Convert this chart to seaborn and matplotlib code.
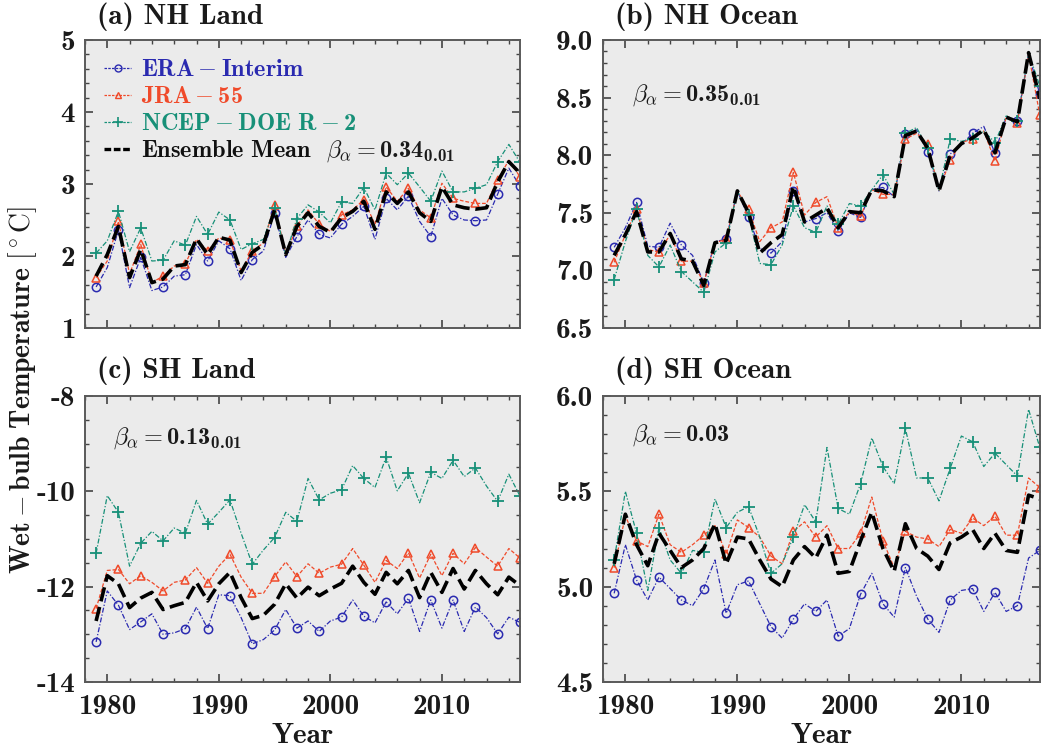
import matplotlib
matplotlib.use('Agg')
import matplotlib.pyplot as plt
import seaborn as sns
import pandas as pd
from matplotlib.ticker import MultipleLocator, FormatStrFormatter
from matplotlib.lines import Line2D

years = list(range(1979, 2018))

# (a) NH Land
era_nh_land = [1.57,1.84,2.36,1.56,1.98,1.52,1.57,1.72,1.74,2.16,1.93,2.21,2.10,1.66,1.95,2.07,2.60,1.98,2.27,2.50,
               2.30,2.25,2.44,2.55,2.69,2.23,2.80,2.64,2.83,2.48,2.27,2.80,2.57,2.50,2.49,2.50,2.86,3.22,2.97]
jra_nh_land = [1.70,1.93,2.48,1.75,2.16,1.63,1.72,1.86,1.89,2.23,2.07,2.25,2.22,1.79,2.07,2.18,2.71,2.02,2.41,2.64,
               2.44,2.34,2.57,2.64,2.78,2.44,2.96,2.76,2.94,2.64,2.53,3.01,2.80,2.76,2.73,2.73,3.06,3.33,3.10]
ncep_nh_land = [2.04,2.21,2.62,2.06,2.39,1.93,1.94,2.21,2.15,2.55,2.30,2.61,2.50,2.09,2.17,2.23,2.67,2.02,2.52,2.71,
                2.61,2.46,2.75,2.73,2.95,2.64,3.15,2.99,3.15,2.96,2.76,3.18,2.89,2.89,2.94,2.99,3.31,3.55,3.30]
ens_nh_land = [1.72,2.02,2.41,1.70,2.09,1.63,1.68,1.86,1.88,2.24,2.02,2.26,2.22,1.77,2.05,2.16,2.64,2.02,2.41,2.60,
               2.41,2.33,2.53,2.62,2.76,2.37,2.89,2.73,2.89,2.60,2.48,2.96,2.71,2.67,2.65,2.67,3.03,3.31,3.15]

# (b) NH Ocean
era_nh_ocean = [7.20,7.37,7.59,7.21,7.20,7.41,7.22,7.13,6.89,7.25,7.27,7.69,7.46,7.19,7.15,7.25,7.69,7.42,7.45,7.50,
                7.34,7.50,7.46,7.70,7.72,7.64,8.18,8.22,8.03,7.69,8.01,8.09,8.19,8.25,8.02,8.33,8.30,8.88,8.53]
jra_nh_ocean = [7.07,7.31,7.53,7.18,7.16,7.31,7.08,7.08,6.89,7.24,7.27,7.69,7.53,7.25,7.37,7.42,7.85,7.48,7.59,7.64,
                7.37,7.51,7.47,7.70,7.66,7.66,8.14,8.19,8.10,7.69,7.96,8.11,8.14,8.21,7.95,8.33,8.28,8.88,8.35]
ncep_nh_ocean = [6.92,7.25,7.53,7.13,7.03,7.22,6.99,6.90,6.81,7.16,7.24,7.69,7.48,7.06,7.05,7.22,7.56,7.37,7.33,7.56,
                 7.40,7.58,7.56,7.70,7.83,7.66,8.19,8.24,8.06,7.69,8.14,8.12,8.14,8.21,8.11,8.34,8.30,8.89,8.60]
ens_nh_ocean = [7.13,7.31,7.51,7.16,7.16,7.32,7.10,7.08,6.87,7.24,7.26,7.69,7.50,7.15,7.24,7.31,7.73,7.42,7.48,7.54,
                7.37,7.51,7.50,7.70,7.69,7.64,8.17,8.21,8.06,7.69,8.00,8.10,8.15,8.22,8.02,8.33,8.29,8.89,8.49]

# (c) SH Land
era_sh_land = [-13.16,-12.09,-12.39,-12.90,-12.74,-12.57,-13.00,-12.97,-12.88,-12.43,-12.88,-12.17,-12.19,-12.65,
               -13.20,-13.11,-12.91,-12.48,-12.87,-12.72,-12.94,-12.72,-12.64,-12.28,-12.62,-12.76,-12.32,-12.57,
               -12.24,-12.94,-12.28,-12.87,-12.28,-12.94,-12.43,-12.65,-12.99,-12.64,-12.75]
jra_sh_land = [-12.46,-11.66,-11.64,-11.94,-11.77,-11.91,-12.09,-11.91,-11.86,-11.60,-11.93,-11.57,-11.32,-11.80,
               -12.14,-12.14,-11.79,-11.48,-11.79,-11.52,-11.72,-11.59,-11.53,-11.20,-11.55,-11.91,-11.45,-11.62,
               -11.29,-11.82,-11.32,-11.77,-11.30,-11.52,-11.18,-11.38,-11.57,-11.20,-11.40]
ncep_sh_land = [-11.30,-10.09,-10.44,-11.57,-11.09,-10.84,-11.04,-10.77,-10.88,-10.19,-10.69,-10.44,-10.18,-10.88,
                -11.53,-11.23,-10.97,-10.44,-10.63,-9.73,-10.18,-10.04,-9.97,-9.46,-9.73,-9.92,-9.28,-9.99,
                -9.62,-10.24,-9.60,-9.73,-9.35,-9.69,-9.51,-9.89,-10.21,-9.64,-10.10]
ens_sh_land = [-12.72,-11.77,-11.94,-12.44,-12.24,-12.12,-12.48,-12.40,-12.33,-11.91,-12.30,-11.94,-11.70,-12.23,
               -12.67,-12.60,-12.37,-11.94,-12.24,-12.01,-12.19,-12.05,-11.93,-11.57,-11.91,-12.16,-11.70,-11.94,
               -11.66,-12.23,-11.70,-12.12,-11.62,-12.05,-11.66,-11.94,-12.17,-11.80,-11.98]

# (d) SH Ocean
era_sh_ocean = [4.965,5.22,5.035,4.93,5.05,4.99,4.93,4.90,4.99,5.14,4.86,5.01,5.03,4.91,4.79,4.73,4.83,4.91,4.87,4.93,
                4.74,4.78,4.96,5.07,4.91,4.84,5.10,4.95,4.83,4.76,4.93,4.98,4.99,4.87,4.97,4.87,4.90,5.15,5.19]
jra_sh_ocean = [5.10,5.37,5.24,5.21,5.38,5.22,5.18,5.22,5.27,5.32,5.17,5.35,5.31,5.26,5.16,5.12,5.29,5.34,5.26,5.32,
                5.20,5.20,5.28,5.47,5.24,5.10,5.29,5.26,5.25,5.21,5.30,5.28,5.36,5.32,5.37,5.27,5.27,5.57,5.52]
ncep_sh_ocean = [5.14,5.50,5.28,4.98,5.31,5.14,5.07,5.19,5.18,5.46,5.31,5.39,5.42,5.26,5.07,5.12,5.26,5.43,5.34,5.73,
                 5.41,5.38,5.54,5.78,5.63,5.54,5.83,5.57,5.57,5.45,5.62,5.79,5.76,5.63,5.70,5.64,5.58,5.93,5.73]
ens_sh_ocean = [5.12,5.38,5.22,5.11,5.28,5.19,5.10,5.14,5.20,5.33,5.12,5.26,5.25,5.14,5.04,5.00,5.14,5.21,5.15,5.27,
                5.07,5.08,5.24,5.39,5.20,5.08,5.33,5.20,5.16,5.09,5.23,5.26,5.30,5.20,5.28,5.19,5.18,5.48,5.46]

panel_titles = ['(a) NH Land', '(b) NH Ocean', '(c) SH Land', '(d) SH Ocean']
beta_labels = [r'$\beta_\alpha = \mathdefault{0.34}_{\mathdefault{0.01}}$',
               r'$\beta_\alpha = \mathdefault{0.35}_{\mathdefault{0.01}}$',
               r'$\beta_\alpha = \mathdefault{0.13}_{\mathdefault{0.01}}$',
               r'$\beta_\alpha = \mathdefault{0.03}$']
series_names = [r'$\mathdefault{ERA}-\mathdefault{Interim}$', r'$\mathdefault{JRA}-\mathdefault{55}$',
                r'$\mathdefault{NCEP}-\mathdefault{DOE\ R}-\mathdefault{2}$', r'$\mathdefault{Ensemble\ Mean}$']
y_label = r'$\mathdefault{Wet}-\mathdefault{bulb\ Temperature}\ [^\circ\mathrm{C}]$'

sns.set_theme(style='ticks')
plt.rcParams.update({
    'font.family': ['cmb10', 'DejaVu Serif'],
    'mathtext.fontset': 'cm',
    'axes.unicode_minus': False,
    'axes.facecolor': '#ebebeb',
    'axes.edgecolor': '#5a5a5a',
    'axes.linewidth': 1.4,
    'xtick.direction': 'in',
    'ytick.direction': 'in',
    'xtick.top': True,
    'ytick.right': True,
    'xtick.major.size': 6,
    'ytick.major.size': 6,
    'xtick.minor.size': 3,
    'ytick.minor.size': 3,
    'xtick.major.width': 1.2,
    'ytick.major.width': 1.2,
    'xtick.minor.width': 1.0,
    'ytick.minor.width': 1.0,
    'xtick.color': '#444444',
    'ytick.color': '#444444',
    'xtick.labelcolor': '#1a1a1a',
    'ytick.labelcolor': '#1a1a1a',
    'xtick.labelsize': 21,
    'ytick.labelsize': 21,
})

c_era = '#2a2ab0'
c_jra = '#f04a2a'
c_ncep = '#179078'
c_ens = '#000000'

fig = plt.figure(figsize=(10.45, 7.5), dpi=100)
positions = [[0.0813, 0.5627, 0.4163, 0.384], [0.577, 0.5627, 0.418, 0.384],
             [0.0813, 0.0907, 0.4163, 0.3813], [0.577, 0.0907, 0.418, 0.3813]]

panels = [
    (era_nh_land, jra_nh_land, ncep_nh_land, ens_nh_land, (1, 5), 1, 0.2, '%d', (0.553, 0.615)),
    (era_nh_ocean, jra_nh_ocean, ncep_nh_ocean, ens_nh_ocean, (6.5, 9.0), 0.5, 0.1, '%.1f', (0.066, 0.81)),
    (era_sh_land, jra_sh_land, ncep_sh_land, ens_sh_land, (-14, -8), 2, 0.5, '%d', (0.064, 0.852)),
    (era_sh_ocean, jra_sh_ocean, ncep_sh_ocean, ens_sh_ocean, (4.5, 6.0), 0.5, 0.1, '%.1f', (0.066, 0.864)),
]

for i, (era, jra, ncep, ens, ylim, major, minor, fmt, bpos) in enumerate(panels):
    ax = fig.add_axes(positions[i])
    df = pd.DataFrame({'Year': years, 'ERA': era, 'JRA': jra, 'NCEP': ncep, 'ENS': ens})
    sns.lineplot(data=df, x='Year', y='ERA', ax=ax, color=c_era, linewidth=0.9,
                 linestyle=(0, (4, 1.5, 1, 1.5)), marker='o', markersize=6, markerfacecolor='none',
                 markeredgecolor=c_era, markeredgewidth=1.1, markevery=2)
    sns.lineplot(data=df, x='Year', y='JRA', ax=ax, color=c_jra, linewidth=0.9,
                 linestyle=(0, (3, 1.5)), marker='^', markersize=6, markerfacecolor='none',
                 markeredgecolor=c_jra, markeredgewidth=1.1, markevery=2)
    sns.lineplot(data=df, x='Year', y='NCEP', ax=ax, color=c_ncep, linewidth=0.9,
                 linestyle=(0, (4, 1.5, 1, 1.5)), marker='+', markersize=8,
                 markeredgecolor=c_ncep, markeredgewidth=1.3, markevery=2)
    sns.lineplot(data=df, x='Year', y='ENS', ax=ax, color=c_ens, linewidth=2.6,
                 linestyle=(0, (4, 1.6)))
    ax.set_xlim(1978, 2017)
    ax.set_ylim(*ylim)
    ax.xaxis.set_major_locator(MultipleLocator(10))
    ax.xaxis.set_minor_locator(MultipleLocator(2))
    ax.yaxis.set_major_locator(MultipleLocator(major))
    ax.yaxis.set_minor_locator(MultipleLocator(minor))
    ax.yaxis.set_major_formatter(FormatStrFormatter(fmt))
    ax.tick_params(axis='y', which='both', pad=7)
    ax.tick_params(axis='x', which='both', pad=9)
    ax.set_ylabel('')
    if i < 2:
        ax.set_xlabel('')
        ax.tick_params(axis='x', labelbottom=False)
    else:
        ax.set_xlabel('Year', fontsize=21, labelpad=2, color='#1a1a1a')
    ty = 1.08 if i < 2 else 1.09
    ax.text(0.028, ty, panel_titles[i], transform=ax.transAxes, fontsize=21,
            ha='left', va='center', color='#1a1a1a')
    ax.text(bpos[0], bpos[1], beta_labels[i], transform=ax.transAxes, fontsize=17.5,
            ha='left', va='center', color='#1a1a1a')
    if i == 0:
        handles = [
            Line2D([], [], color=c_era, lw=0.9, ls=(0, (2, 1)), marker='o', ms=5, mfc='none', mew=1.0),
            Line2D([], [], color=c_jra, lw=0.9, ls=(0, (2, 1)), marker='^', ms=5, mfc='none', mew=1.0),
            Line2D([], [], color=c_ncep, lw=0.9, ls=(0, (2, 1)), marker='+', ms=7, mew=1.2),
            Line2D([], [], color=c_ens, lw=2.4, ls=(0, (2, 0.8))),
        ]
        leg = ax.legend(handles, series_names, loc='upper left', frameon=False, fontsize=17.5,
                        handlelength=1.1, handletextpad=0.4, labelspacing=0.2,
                        borderaxespad=0.4, bbox_to_anchor=(0.0, 1.0))
        for txt, col in zip(leg.get_texts(), [c_era, c_jra, c_ncep, '#111111']):
            txt.set_color(col)

fig.text(0.022, 0.48, y_label, rotation=90,
         fontsize=20, ha='center', va='center', color='#1a1a1a')

fig.savefig('out.png', dpi=100, facecolor='white')
